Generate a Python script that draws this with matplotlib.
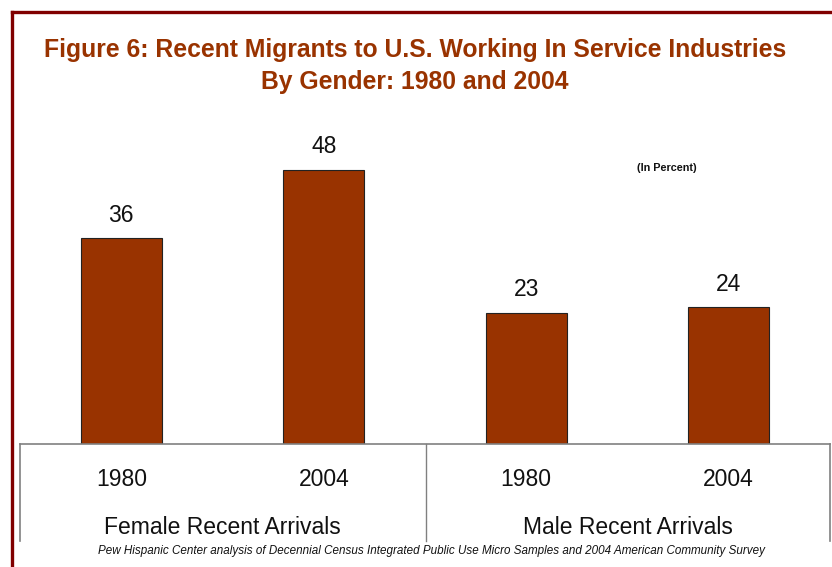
import matplotlib
matplotlib.use("Agg")
import matplotlib.pyplot as plt
from matplotlib.lines import Line2D

years = ["1980", "2004", "1980", "2004"]
values = [36, 48, 23, 24]
groups = ["Female Recent Arrivals", "Male Recent Arrivals"]
title = "Figure 6: Recent Migrants to U.S. Working In Service Industries\nBy Gender: 1980 and 2004"
note = "Pew Hispanic Center analysis of Decennial Census Integrated Public Use Micro Samples and 2004 American Community Survey"

W, H = 832, 567
plt.rcParams['font.family'] = ['Liberation Sans', 'DejaVu Sans']
fig = plt.figure(figsize=(W / 100, H / 100), dpi=100)

def fx(px):
    return px / W

def fy(py):
    return 1 - py / H

# frame
fig.add_artist(Line2D([fx(12), fx(832)], [fy(12), fy(12)], color="#800000", lw=2.4))
fig.add_artist(Line2D([fx(12), fx(12)], [fy(12), fy(567)], color="#800000", lw=2.4))

base_px = 444
top_px = 125
ax = fig.add_axes([fx(20), fy(base_px), fx(830) - fx(20), (base_px - top_px) / H])
x = list(range(len(values)))
bars = ax.bar(x, values, width=0.4, color="#993300", edgecolor="#222222", linewidth=0.8)
ax.set_xlim(-0.5, len(values) - 0.5)
ax.set_ylim(0, 55.8)
ax.axis("off")
for xi, v in zip(x, values):
    ax.annotate(str(v), (xi, v), xytext=(0, 8), textcoords="offset points",
                ha="center", va="bottom", fontsize=16.5, color="#111111")

# box below
gray = "#808080"
fig.add_artist(Line2D([fx(20), fx(830)], [fy(444), fy(444)], color=gray, lw=1.2))
fig.add_artist(Line2D([fx(20), fx(20)], [fy(444), fy(541)], color=gray, lw=1.2))
fig.add_artist(Line2D([fx(830), fx(830)], [fy(444), fy(541)], color=gray, lw=1.2))
fig.add_artist(Line2D([fx(426), fx(426)], [fy(444), fy(541)], color=gray, lw=1.0))

trans = ax.get_xaxis_transform()
ax_h = base_px - top_px
for xi, y in zip(x, years):
    ax.text(xi, -(480 - base_px) / ax_h, y, transform=trans, ha="center", va="center",
            fontsize=16.5, color="#111111", clip_on=False)
for gi, g in enumerate(groups):
    ax.text(gi * 2 + 0.5, -(528 - base_px) / ax_h, g, transform=trans, ha="center", va="center",
            fontsize=16.5, color="#111111", clip_on=False)

fig.text(fx(415), fy(66), title, ha="center", va="center", fontsize=17.8, fontweight="bold",
         color="#993300", linespacing=1.45)
fig.text(fx(667), fy(168), "(In Percent)", ha="center", va="center", fontsize=7.8,
         fontweight="bold", color="#111111")
fig.text(fx(431), fy(551), note, ha="center", va="center", fontsize=8.4, style="italic",
         color="#111111")

fig.savefig("out.png", dpi=100)
